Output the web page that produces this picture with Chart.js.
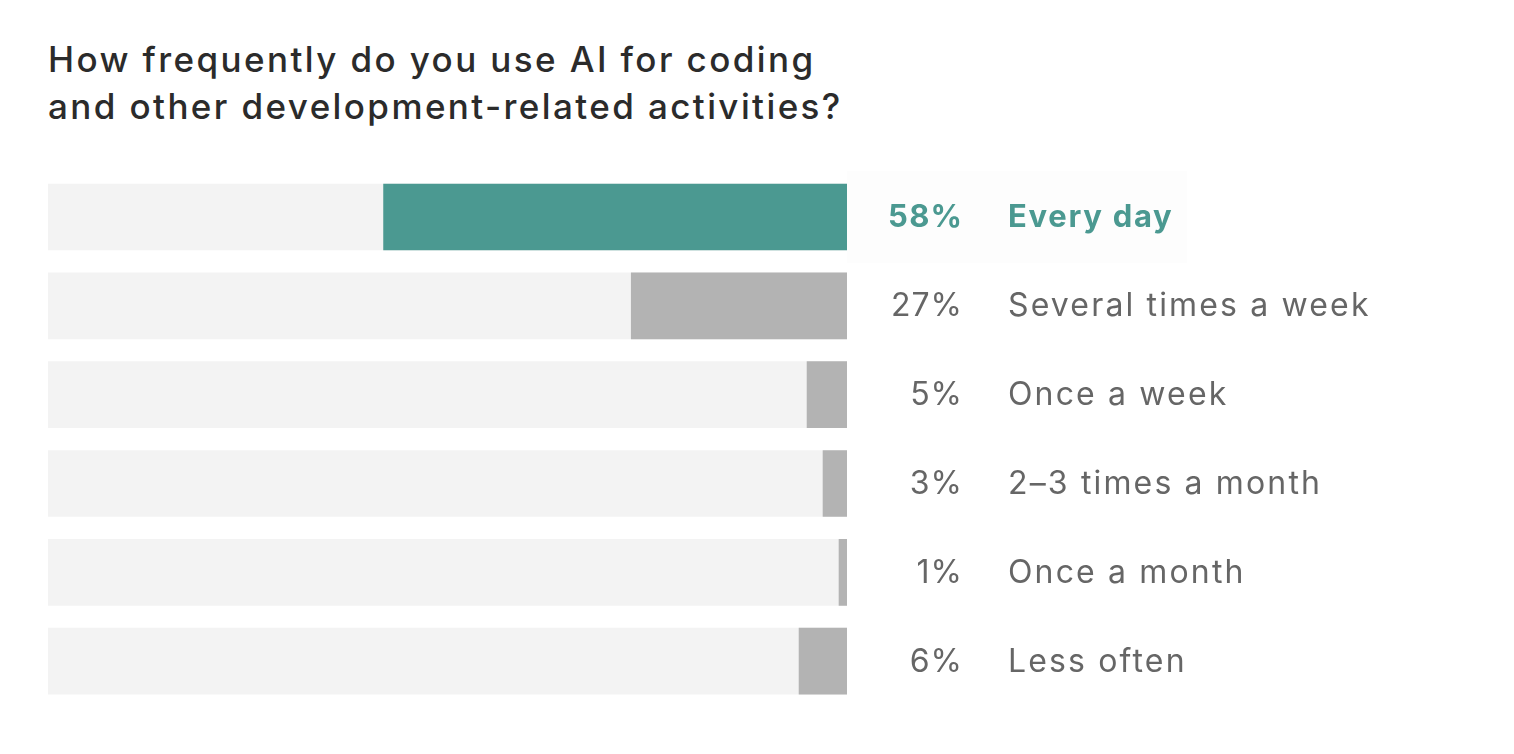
<!DOCTYPE html>
<html>
<head>
<meta charset="utf-8">
<script src="https://cdn.jsdelivr.net/npm/chart.js@4"></script>
<style>
  html, body { margin: 0; padding: 0; background: #fff; }
  #wrap { position: relative; width: 1514px; height: 754px; }
  #title {
    position: absolute; left: 48px; top: 36px;
    font-family: Inter, sans-serif; font-weight: 500; font-size: 35px;
    line-height: 47px; color: #2b2b2b; letter-spacing: 2.4px;
  }
  canvas { position: absolute; left: 0; top: 0; }
</style>
</head>
<body>
<div id="wrap">
  <div id="title">How frequently do you use AI for coding<br>and other development-related activities?</div>
  <canvas id="chart" width="1514" height="754"></canvas>
</div>
<script>
// answers, top to bottom
const categories = ["Every day", "Several times a week", "Once a week", "2\u20133 times a month", "Once a month", "Less often"];
const shares = [58, 27, 5, 3, 1, 6];
const track = [100, 100, 100, 100, 100, 100];

const teal = "#4b9991";
const barColors = shares.map((v, i) => (i === 0 ? teal : "#b3b3b3"));

// percentage + answer text to the right of the bars
const sideLabels = {
  id: "sideLabels",
  afterDatasetsDraw(chart) {
    const ctx = chart.ctx;
    const meta = chart.getDatasetMeta(0);
    ctx.save();
    ctx.textBaseline = "middle";
    meta.data.forEach((bar, i) => {
      const first = i === 0;
      ctx.fillStyle = first ? teal : "#666666";
      ctx.font = (first ? "700 31px" : "400 32px") + " Inter, sans-serif";
      const pct = first ? 1.2 : 1.0;
      ctx.letterSpacing = pct + "px";
      ctx.textAlign = "right";
      ctx.fillText(shares[i] + "%", 962 + pct, bar.y + 1);
      ctx.letterSpacing = (first ? 1.7 : 2.15) + "px";
      ctx.textAlign = "left";
      ctx.fillText(categories[i], 1008, bar.y + 1);
    });
    ctx.restore();
  },
  beforeDatasetsDraw(chart) {
    // faint highlight behind the first row
    const ctx = chart.ctx;
    const bar = chart.getDatasetMeta(0).data[0];
    ctx.save();
    ctx.fillStyle = "#fdfdfd";
    ctx.fillRect(847, bar.y - 46, 340, 92);
    ctx.restore();
  }
};

new Chart(document.getElementById("chart"), {
  type: "bar",
  data: {
    labels: categories,
    datasets: [
      {
        label: "Share",
        data: shares,
        backgroundColor: barColors,
        barThickness: 66,
        grouped: false,
        order: 0
      },
      {
        label: "Total",
        data: track,
        backgroundColor: "#f3f3f3",
        barThickness: 66,
        grouped: false,
        order: 1
      }
    ]
  },
  options: {
    indexAxis: "y",
    responsive: false,
    animation: false,
    events: [],
    layout: { padding: { left: 48, right: 667, top: 172.6, bottom: 48.4 } },
    scales: {
      x: { display: false, min: 0, max: 100, reverse: true },
      y: { display: false }
    },
    plugins: {
      legend: { display: false },
      tooltip: { enabled: false }
    }
  },
  plugins: [sideLabels]
});
</script>
</body>
</html>
